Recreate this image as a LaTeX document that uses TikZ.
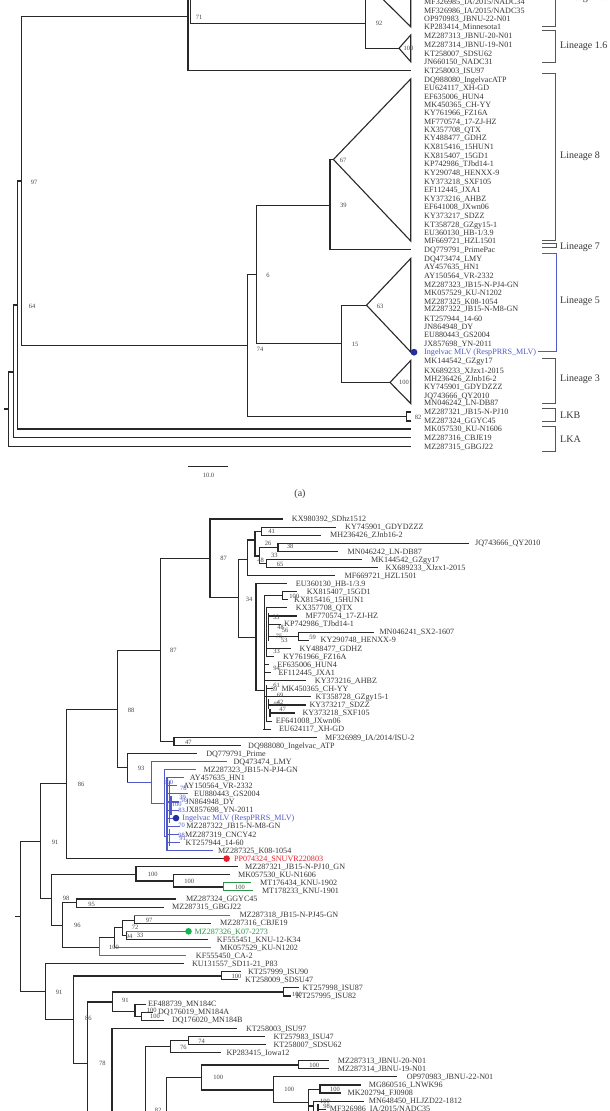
\documentclass[tikz,border=0pt]{standalone}
\usepackage{fontspec}
\setmainfont{Liberation Serif}
\definecolor{treeline}{RGB}{40,40,40}
\definecolor{txt}{RGB}{55,55,55}
\definecolor{bsc}{RGB}{70,70,70}
\definecolor{brc}{RGB}{85,85,85}
\definecolor{blueL}{RGB}{80,90,200}
\definecolor{blueD}{RGB}{35,45,165}
\definecolor{greenL}{RGB}{40,150,70}
\definecolor{greenD}{RGB}{20,180,80}
\definecolor{redD}{RGB}{235,30,45}
\newcount\myn
\newcommand\LA[2]{\global\advance\myn by 1\relax\node[lab] (la\the\myn) at (424,#1) {#2};}
\newcommand\leafB[7][]{\global\advance\myn by 1\relax
  \draw[tl,#1] (#3,{519+8.085*#2})--(#4,{519+8.085*#2});
  \node[lab,#6] (lb\the\myn) at (#5,{519+8.085*#2}) {#7};}
\newcommand\BS[3][]{\global\advance\myn by 1\relax\node[bs,#1] (bs\the\myn) at (#2) {#3};}
\begin{document}
\begin{tikzpicture}[x=1pt,y=-1pt,
  tl/.style={line width=1.1pt,draw=treeline,line cap=rect,line join=miter},
  bl/.style={draw=blueL},
  gr/.style={draw=greenL},
  br/.style={line width=0.9pt,draw=brc},
  lab/.style={anchor=base west,yshift=-2.7pt,inner sep=0pt,font=\fontsize{8.1}{8.1}\selectfont,text=txt},
  bs/.style={inner sep=0pt,font=\fontsize{6.5}{6.5}\selectfont,text=bsc},
  lin/.style={anchor=west,inner sep=0pt,font=\fontsize{10}{10}\selectfont,text=txt}]
\useasboundingbox (0,0) rectangle (610,1111);
\fill[white] (0,0) rectangle (610,1111);
% ================= (a) =================
\draw[tl] (4.7,409)--(8.6,409);
\draw[tl] (8.6,372)--(8.6,446.6)--(410.5,446.6);
\draw[tl] (8.6,372)--(13.6,372) (13.6,305)--(13.6,437.8)--(410.5,437.8);
\draw[tl] (13.6,305)--(17.5,305) (17.5,181)--(17.5,429)--(410.5,429);
\draw[tl] (17.5,181)--(21.4,181) (21.4,16.5)--(21.4,345.6);
\draw[tl] (21.4,16.5)--(188,16.5) (188,-5)--(188,70.5)--(410.5,70.5);
\draw[tl] (190.7,-5)--(190.7,23.3)--(365.7,23.3) (365.7,-5)--(365.7,48.3)--(399,48.3);
\draw[tl] (399,48.3)--(410.7,35)--(410.7,61.7)--cycle;
\draw[tl] (372,-11.5)--(410.7,26.7)--(410.7,-12);
\draw[tl] (21.4,345.6)--(247.9,345.6) (247.9,274.7)--(247.9,416.8)--(406.6,416.8);
\draw[tl] (410.5,412)--(406.6,412)--(406.6,421)--(410.5,421);
\draw[tl] (247.9,274.7)--(256.8,274.7) (256.8,205.3)--(256.8,343.9)--(341.6,343.9);
\draw[tl] (256.8,205.3)--(330,205.3) (330,159.5)--(330,249.8)--(410.5,249.8);
\draw[tl] (330,159.5)--(333.4,159.5);
\draw[tl] (333.4,159.5)--(410.7,79)--(410.7,241)--cycle;
\draw[tl] (341.6,305.2)--(341.6,382.4);
\draw[tl] (341.6,305.2)--(366.5,305.2);
\draw[tl] (366.5,305.2)--(410.7,258.5)--(410.7,352)--cycle;
\draw[tl] (341.6,382.4)--(390,382.4);
\draw[tl] (390,382.4)--(410.7,360.5)--(410.7,403.5)--cycle;
\fill[blueD] (414,352.2) circle (3.4pt);
% labels (a)
\LA{1.8}{MF326985\_IA/2015/NADC34}
\LA{10.8}{MF326986\_IA/2015/NADC35}
\LA{19.2}{OP970983\_JBNU-22-N01}
\LA{27}{KP283414\_Minnesota1}
\LA{36.2}{MZ287313\_JBNU-20-N01}
\LA{44.3}{MZ287314\_JBNU-19-N01}
\LA{53.5}{KT258007\_SDSU62}
\LA{61.9}{JN660150\_NADC31}
\LA{70.5}{KT258003\_ISU97}
\LA{80}{DQ988080\_IngelvacATP}
\LA{88.2}{EU624117\_XH-GD}
\LA{96.5}{EF635006\_HUN4}
\LA{104.8}{MK450365\_CH-YY}
\LA{113.2}{KY761966\_FZ16A}
\LA{121.6}{MF770574\_17-ZJ-HZ}
\LA{129.9}{KX357708\_QTX}
\LA{138}{KY488477\_GDHZ}
\LA{147}{KX815416\_15HUN1}
\LA{155.7}{KX815407\_15GD1}
\LA{164.1}{KP742986\_TJbd14-1}
\LA{172.4}{KY290748\_HENXX-9}
\LA{182}{KY373218\_SXF105}
\LA{190}{EF112445\_JXA1}
\LA{198.3}{KY373216\_AHBZ}
\LA{207.2}{EF641008\_JXwn06}
\LA{215.7}{KY373217\_SDZZ}
\LA{224.3}{KT358728\_GZgy15-1}
\LA{232.5}{EU360130\_HB-1/3.9}
\LA{241}{MF669721\_HZL1501}
\LA{250}{DQ779791\_PrimePac}
\LA{258.4}{DQ473474\_LMY}
\LA{266.7}{AY457635\_HN1}
\LA{275.7}{AY150564\_VR-2332}
\LA{284.6}{MZ287323\_JB15-N-PJ4-GN}
\LA{293.2}{MK057529\_KU-N1202}
\LA{301.4}{MZ287325\_K08-1054}
\LA{309.2}{MZ287322\_JB15-N-M8-GN}
\LA{318.3}{KT257944\_14-60}
\LA{326.5}{JN864948\_DY}
\LA{335}{EU880443\_GS2004}
\LA{344}{JX857698\_YN-2011}
\node[lab,text=blueL] (ingA) at (424,352) {Ingelvac MLV (RespPRRS\_MLV)};
\LA{361}{MK144542\_GZgy17}
\LA{370.5}{KX689233\_XJzx1-2015}
\LA{378.7}{MH236426\_ZJnb16-2}
\LA{387.2}{KY745901\_GDYDZZZ}
\LA{395.6}{JQ743666\_QY2010}
\LA{403}{MN046242\_LN-DB87}
\LA{411.7}{MZ287321\_JB15-N-PJ10}
\LA{420.8}{MZ287324\_GGYC45}
\LA{429}{MK057530\_KU-N1606}
\LA{437.8}{MZ287316\_CBJE19}
\LA{446.6}{MZ287315\_GBGJ22}
% bootstrap (a)
\BS{379,23.3}{92}
\BS{408.5,48}{100}
\BS{199,17.5}{71}
\BS{34,182}{97}
\BS{32,306}{64}
\BS{343,160.7}{67}
\BS{343.3,205.7}{39}
\BS{268,275}{6}
\BS{380,306}{63}
\BS{355,344}{15}
\BS{260,349}{74}
\BS{404,382.5}{100}
\BS{418,417}{82}
% brackets
\draw[br] (555.6,-5)--(555.6,26.2)--(542,26.2);
\draw[br] (542,30)--(555.6,30)--(555.6,62.7)--(542,62.7);
\draw[br] (542,73.3)--(555.6,73.3)--(555.6,240.5)--(542,240.5);
\draw[br] (542,243.8)--(556.5,243.8)--(556.5,247.3)--(542,247.3);
\draw[br,draw=blueL] (542,253.3)--(556.5,253.3)--(556.5,351.7)--(538,351.7);
\draw[br] (542,358.3)--(555.6,358.3)--(555.6,403.3)--(542,403.3);
\draw[br] (542,408)--(555.6,408)--(555.6,421)--(542,421);
\draw[br] (542,426.5)--(555.6,426.5)--(555.6,451.5)--(542,451.5);
\node[lin,anchor=base west] (l15) at (560,0.8) {Lineage 1.5};
\node[lin] (l16) at (560,46) {Lineage 1.6};
\node[lin] (l8) at (560,156) {Lineage 8};
\node[lin] (l7) at (560,247) {Lineage 7};
\node[lin] (l5) at (560,301.7) {Lineage 5};
\node[lin] (l3) at (560,379.3) {Lineage 3};
\node[lin] (lkb) at (560,415) {LKB};
\node[lin] (lka) at (560,439) {LKA};
% scale bar and caption
\coordinate (sb1) at (187.5,466.7); \coordinate (sb2) at (228.3,466.7);
\draw[line width=1pt,draw=treeline] (sb1)--(sb2);
\node[bs] (sbt) at (208.5,475.4) {10.0};
\node[inner sep=0pt,font=\fontsize{10}{10}\selectfont,text=txt] (capa) at (300,494) {(a)};
% ================= (b) =================
\draw[tl] (16,916.7)--(20.7,916.7);
\draw[tl] (20.7,841.6)--(20.7,991.9);
\draw[tl] (20.7,841.6)--(40.7,841.6) (40.7,783.3)--(40.7,898.8);
\draw[tl] (40.7,783.3)--(66.7,783.3) (66.7,709.2)--(66.7,858.6);
\draw[tl] (66.7,709.2)--(117.3,709.2) (117.3,650.2)--(117.3,767.5);
\draw[tl] (117.3,650.2)--(160.5,650.2) (160.5,558.3)--(160.5,741.3);
\draw[tl] (160.5,558.3)--(210,558.3) (210,519)--(210,597.7);
\draw[tl] (210,597.7)--(238.3,597.7) (238.3,559.3)--(238.3,637.3);
\draw[tl] (238.3,559.3)--(247.7,559.3) (247.7,540)--(247.7,575.6);
\draw[tl] (247.7,540)--(255,540) (255,531.2)--(255,556);
\draw[tl] (255,531.2)--(261.7,531.2) (261.7,527.1)--(261.7,535.2);
\draw[tl] (255,556)--(259.5,556) (259.5,547.3)--(259.5,563.5);
\draw[tl] (259.5,547.3)--(278,547.3) (278,543.3)--(278,551.3);
\draw[tl] (259.5,563.5)--(266.7,563.5) (266.7,559.4)--(266.7,567.5);
\draw[tl] (238.3,637.3)--(256,637.3) (256,583.7)--(256,690.3);
\draw[tl] (256,690.3)--(264.5,690.3) (264.5,595.9)--(264.5,729.2);
\draw[tl] (264.5,595.9)--(282.7,595.9) (282.7,591.8)--(282.7,599.9);
\draw[tl] (266.5,607.9)--(266.5,656.4) (268.5,614)--(268.5,640) (266.5,686)--(266.5,721.1) (268.5,700)--(268.5,708) (270,710)--(270,716);
\draw[tl] (268.5,636.2)--(298.3,636.2) (298.3,632.2)--(298.3,640.3);
\draw[tl] (160.5,741.3)--(174,741.3) (174,737.3)--(174,745.4);
\draw[tl] (117.3,767.5)--(127.7,767.5) (127.7,753.5)--(127.7,782.6);
\draw[tl,bl] (127.7,782.6)--(151.7,782.6) (151.7,761.6)--(151.7,803.3);
\draw[tl,bl] (151.7,803.3)--(164.3,803.3) (164.3,769.6)--(164.3,836.3);
\draw[tl,bl] (164.3,836.3)--(167,836.3) (167,777.7)--(167,850.5);
\draw[tl,bl] (169.5,782)--(169.5,822) (171,797)--(171,814) (169.5,830)--(169.5,845);
\draw[tl] (40.7,898.8)--(51.7,898.8) (51.7,874.9)--(51.7,925.7);
\draw[tl] (51.7,874.9)--(136,874.9) (136,866.7)--(136,881);
\draw[tl] (136,881)--(173.3,881) (173.3,874.7)--(173.3,887);
\draw[tl] (173.3,887)--(223.3,887);
\draw[tl,gr] (223.3,882.8)--(223.3,890.9);
\draw[tl] (51.7,925.7)--(62.3,925.7) (62.3,902.4)--(62.3,947.1);
\draw[tl] (62.3,902.4)--(76.7,902.4) (76.7,899)--(76.7,907.1);
\draw[tl] (62.3,947.1)--(99.3,947.1);
\draw[tl,gr] (99.3,937.5)--(99.3,955.6);
\draw[tl] (99.3,937.5)--(114.8,937.5) (114.8,927.4)--(114.8,947.5);
\draw[tl] (114.8,927.4)--(122.6,927.4) (122.6,920.3)--(122.6,935.4);
\draw[tl] (122.6,920.3)--(134.2,920.3) (134.2,915.2)--(134.2,923.3);
\draw[tl] (122.6,935.4)--(126.5,935.4) (126.5,931.3)--(126.5,939.4);
\draw[tl] (20.7,991.9)--(45.3,991.9) (45.3,963.7)--(45.3,1019.8);
\draw[tl] (45.3,1019.8)--(73.3,1019.8) (73.3,976)--(73.3,1063.4);
\draw[tl] (73.3,976)--(221.8,976) (221.8,971.8)--(221.8,979.8);
\draw[tl] (73.3,1063.4)--(87.7,1063.4) (87.7,1002)--(87.7,1115);
\draw[tl] (87.7,1002)--(112.7,1002) (112.7,992)--(112.7,1011.5);
\draw[tl] (112.7,992)--(283.5,992) (283.5,987.9)--(283.5,996);
\draw[tl] (112.7,1011.5)--(135,1011.5) (135,1004.1)--(135,1016.3);
\draw[tl] (135,1016.3)--(141.7,1016.3) (141.7,1012.2)--(141.7,1020.3);
\draw[tl] (112,1028.4)--(112,1115);
\draw[tl] (145.1,1046.6)--(145.1,1115) (145.1,1046.6)--(170.7,1046.6);
\draw[tl] (170.7,1040.5)--(170.7,1052.6) (170.7,1040.5)--(188.3,1040.5) (188.3,1036.4)--(188.3,1044.5);
\draw[tl] (166.7,1077.3)--(166.7,1115) (166.7,1077.3)--(201.7,1077.3) (201.7,1065)--(201.7,1090);
\draw[tl] (201.7,1065)--(298.3,1065) (298.3,1060.7)--(298.3,1068.8);
\draw[tl] (201.7,1090)--(273.3,1090) (273.3,1076.9)--(273.3,1102.7);
\draw[tl] (273.3,1102.7)--(308.3,1102.7) (308.3,1089.3)--(308.3,1115);
\draw[tl] (308.3,1089.3)--(320,1089.3) (320,1085)--(320,1093.1);
\draw[tl] (308.3,1106)--(313.3,1106) (313.3,1101.1)--(313.3,1115) (318,1105)--(318,1115);
% leaves (b)
\leafB{0}{210}{282.7}{291.7}{}{KX980392\_SDhz1512}
\leafB{1}{261.7}{335}{345}{}{KY745901\_GDYDZZZ}
\leafB{2}{261.7}{320}{330}{}{MH236426\_ZJnb16-2}
\leafB{3}{278}{468.3}{475}{}{JQ743666\_QY2010}
\leafB{4}{278}{337.7}{347.5}{}{MN046242\_LN-DB87}
\leafB{5}{266.7}{361.9}{370.8}{}{MK144542\_GZgy17}
\leafB{6}{266.7}{377.4}{385.5}{}{KX689233\_XJzx1-2015}
\leafB{7}{247.7}{334.4}{344.4}{}{MF669721\_HZL1501}
\leafB{8}{256}{286}{295.7}{}{EU360130\_HB-1/3.9}
\leafB{9}{282.7}{296.7}{306.6}{}{KX815407\_15GD1}
\leafB{10}{282.7}{287}{294}{}{KX815416\_15HUN1}
\leafB{11}{266.5}{286}{295.7}{}{KX357708\_QTX}
\leafB{12}{268.5}{296.7}{305.5}{}{MF770574\_17-ZJ-HZ}
\leafB{13}{268.5}{280.5}{284}{}{KP742986\_TJbd14-1}
\leafB{14}{298.3}{373.3}{379.3}{}{MN046241\_SX2-1607}
\leafB{15}{298.3}{308.3}{320.5}{}{KY290748\_HENXX-9}
\leafB{16}{266.5}{290}{299.5}{}{KY488477\_GDHZ}
\leafB{17}{266.5}{273.3}{282.8}{}{KY761966\_FZ16A}
\leafB{18}{264.5}{268.5}{277.2}{}{EF635006\_HUN4}
\leafB{19}{264.5}{270}{278.3}{}{EF112445\_JXA1}
\leafB{20}{264.5}{305}{314.7}{}{KY373216\_AHBZ}
\leafB{21}{266.5}{272}{281.3}{}{MK450365\_CH-YY}
\leafB{22}{264.5}{310}{315.5}{}{KT358728\_GZgy15-1}
\leafB{23}{268.5}{305}{309.3}{}{KY373217\_SDZZ}
\leafB{24}{270}{294}{302.3}{}{KY373218\_SXF105}
\leafB{25}{266.5}{271}{275.6}{}{EF641008\_JXwn06}
\leafB{26}{263.5}{270}{279}{}{EU624117\_XH-GD}
\leafB{27}{174}{316.7}{325}{}{MF326989\_IA/2014/ISU-2}
\leafB{28}{174}{240}{248}{}{DQ988080\_Ingelvac\_ATP}
\leafB{29}{127.7}{196.5}{206.1}{}{DQ779791\_Prime}
\leafB[bl]{30}{151.7}{226}{233.4}{}{DQ473474\_LMY}
\leafB[bl]{31}{164.3}{195}{203.4}{}{MZ287323\_JB15-N-PJ4-GN}
\leafB[bl]{32}{167}{183}{189.6}{}{AY457635\_HN1}
\leafB[bl]{33}{167}{176}{183.1}{}{AY150564\_VR-2332}
\leafB[bl]{34}{167}{187}{193.9}{}{EU880443\_GS2004}
\leafB[bl]{35}{167}{178}{185.5}{}{JN864948\_DY}
\leafB[bl]{36}{167}{178}{185.5}{}{JX857698\_YN-2011}
\leafB[bl]{37}{167}{176}{182.2}{text=blueL}{Ingelvac MLV (RespPRRS\_MLV)}
\leafB[bl]{38}{167}{179}{186.2}{}{MZ287322\_JB15-N-M8-GN}
\leafB[bl]{39}{167}{178}{185}{}{MZ287319\_CNCY42}
\leafB[bl]{40}{167}{179}{185.5}{}{KT257944\_14-60}
\leafB[bl]{41}{167}{212}{217.8}{}{MZ287325\_K08-1054}
\leafB{42}{66.7}{226.6}{233.8}{text=redD}{PP074324\_SNUVR220803}
\leafB{43}{136}{237}{245}{}{MZ287321\_JB15-N-PJ10\_GN}
\leafB{44}{173.3}{229}{237.9}{}{MK057530\_KU-N1606}
\leafB[gr]{45}{223.3}{250}{260}{}{MT176434\_KNU-1902}
\leafB[gr]{46}{223.3}{252}{261.8}{}{MT178233\_KNU-1901}
\leafB{47}{76.7}{175.7}{185.8}{}{MZ287324\_GGYC45}
\leafB{48}{76.7}{163.3}{172}{}{MZ287315\_GBGJ22}
\leafB[gr]{49}{134.2}{229.6}{239.5}{}{MZ287318\_JB15-N-PJ45-GN}
\leafB{50}{134.2}{210.7}{219.9}{}{MZ287316\_CBJE19}
\leafB[gr,line width=0.7pt]{51}{126.5}{188.5}{194.5}{text=greenL}{MZ287326\_K07-2273}
\leafB{52}{126.5}{207}{216.7}{}{KF555451\_KNU-12-K34}
\leafB[gr]{53}{114.8}{210.7}{219.9}{}{MK057529\_KU-N1202}
\leafB[gr]{54}{99.3}{185.7}{195.7}{}{KF555450\_CA-2}
\leafB{55}{45.3}{183.3}{191.8}{}{KU131557\_SD11-21\_P83}
\leafB{56}{221.8}{240}{247.8}{}{KT257999\_ISU90}
\leafB{57}{221.8}{237}{245}{}{KT258009\_SDSU47}
\leafB{58}{283.5}{298}{302.5}{}{KT257998\_ISU87}
\leafB{59}{283.5}{290}{295.7}{}{KT257995\_ISU82}
\leafB{60}{135}{145}{148}{}{EF488739\_MN184C}
\leafB{61}{141.7}{152}{157.9}{}{DQ176019\_MN184A}
\leafB{62}{141.7}{163}{171.8}{}{DQ176020\_MN184B}
\leafB{63}{112}{236.6}{245.9}{}{KT258003\_ISU97}
\leafB{64}{188.3}{264}{273.3}{}{KT257983\_ISU47}
\leafB{65}{188.3}{265}{273.4}{}{KT258007\_SDSU62}
\leafB{66}{170.7}{220}{226.3}{}{KP283415\_Iowa12}
\leafB{67}{298.3}{328.3}{337.7}{}{MZ287313\_JBNU-20-N01}
\leafB{68}{298.3}{328.3}{337.7}{}{MZ287314\_JBNU-19-N01}
\leafB{69}{273.3}{396.7}{406.6}{}{OP970983\_JBNU-22-N01}
\leafB{70}{320}{360}{368.6}{}{MG860516\_LNWK96}
\leafB{71}{320}{340}{347.4}{}{MK202794\_FJ0908}
\leafB{72}{313.3}{363.3}{368.6}{}{MN648450\_HLJZD22-1812}
\leafB{73}{318}{325}{329.7}{}{MF326986\_IA/2015/NADC35}
% dots
\fill[redD] (226.6,858.6) circle (3.3pt);
\fill[blueD] (176,818.1) circle (3.3pt);
\fill[greenD] (188.5,931.3) circle (3.3pt);
% bootstrap (b)
\BS{271.7,531}{41}
\BS{268,543.3}{26}
\BS{290,546}{38}
\BS{274.3,555.4}{33}
\BS{260.7,560}{48}
\BS{280,564.3}{65}
\BS{223.5,558.3}{87}
\BS{249,599.3}{34}
\BS{294.3,596.7}{100}
\BS{276,617.5}{33}
\BS{280.7,627.3}{48}
\BS{285,630.7}{56}
\BS{279,636}{75}
\BS{284.3,640}{53}
\BS{312.7,637.3}{59}
\BS{276.7,651.7}{33}
\BS{276.7,668.3}{94}
\BS{276.7,685}{61}
\BS{274,689.3}{39}
\BS{280,695}{69}
\BS{280,702.7}{42}
\BS{276,704}{45}
\BS{282.7,709.3}{47}
\BS{173.3,650.2}{87}
\BS{131,710}{88}
\BS{188.3,742}{47}
\BS{141,768.2}{93}
\BS{81,784.3}{86}
\BS{55,842.7}{91}
\BS[text=blueL]{168.3,782.6}{100}
\BS[text=blueL]{183.3,788.3}{78}
\BS[text=blueL]{182.5,797}{39}
\BS[text=blueL]{183.5,800.5}{56}
\BS[text=blueL]{176.7,804.3}{100}
\BS[text=blueL]{181.7,810}{83}
\BS[text=blueL]{181.7,825}{70}
\BS[text=blueL]{181.7,835}{98}
\BS[text=blueL]{182.7,838.3}{91}
\BS{152.7,874.5}{100}
\BS{189.3,881.7}{100}
\BS{240,887.3}{100}
\BS{66,898.8}{98}
\BS{91.7,904.2}{95}
\BS{77.3,925.7}{96}
\BS{149,920.3}{97}
\BS{135,927.4}{72}
\BS{129.2,936.4}{94}
\BS{140,935.7}{33}
\BS{114,947.1}{100}
\BS{59,991.9}{91}
\BS{236.6,976.5}{100}
\BS{88.3,1018.7}{86}
\BS{297,994}{100}
\BS{125.3,1000.8}{91}
\BS{151.7,1010.3}{100}
\BS{155,1016.7}{100}
\BS{102.3,1063.4}{78}
\BS{183.3,1047.3}{76}
\BS{201.7,1041}{74}
\BS{158,1110}{82}
\BS{218.3,1077.3}{100}
\BS{314.3,1065}{100}
\BS{289.3,1089.3}{100}
\BS{335,1089.3}{100}
\BS{325,1101.7}{100}
\BS{326.7,1106.7}{98}
\end{tikzpicture}
\end{document}
